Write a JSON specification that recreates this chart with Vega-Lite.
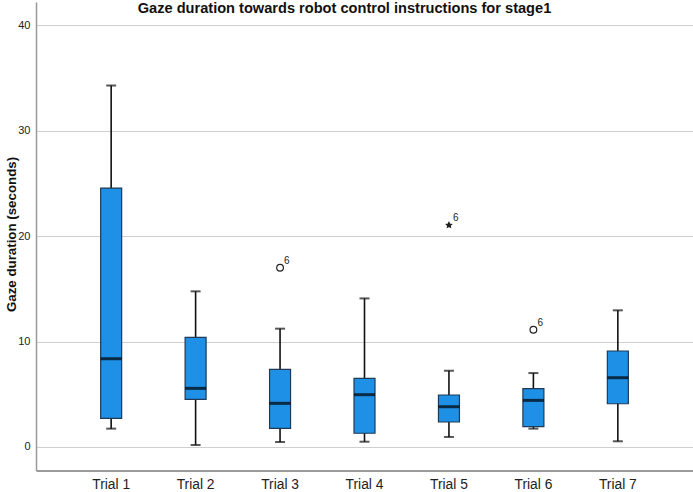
{
  "$schema": "https://vega.github.io/schema/vega-lite/v6.json",
  "width": 657,
  "height": 468.6,
  "autosize": "none",
  "padding": {"left": 36, "top": 2, "right": 0, "bottom": 21.4},
  "background": "white",
  "title": {
    "text": "Gaze duration towards robot control instructions for stage1",
    "font": "Liberation Sans",
    "fontSize": 14.6,
    "fontWeight": "bold",
    "color": "#111111",
    "anchor": "middle",
    "offset": -26,
    "dx": -20,
    "baseline": "alphabetic"
  },
  "datasets": {
    "boxes": [
      {"trial": "Trial 1", "min": 1.74, "q1": 2.72, "median": 8.37, "q3": 24.55, "max": 34.28},
      {"trial": "Trial  2", "min": 0.19, "q1": 4.52, "median": 5.56, "q3": 10.4, "max": 14.76},
      {"trial": "Trial  3", "min": 0.47, "q1": 1.77, "median": 4.14, "q3": 7.36, "max": 11.22},
      {"trial": "Trial  4", "min": 0.5, "q1": 1.3, "median": 4.96, "q3": 6.51, "max": 14.09},
      {"trial": "Trial 5", "min": 0.95, "q1": 2.37, "median": 3.82, "q3": 4.93, "max": 7.23},
      {"trial": "Trial  6", "min": 1.74, "q1": 1.93, "median": 4.42, "q3": 5.53, "max": 7.01},
      {"trial": "Trial  7", "min": 0.54, "q1": 4.1, "median": 6.57, "q3": 9.1, "max": 12.96}
    ],
    "outliers": [
      {"trial": "Trial  3", "value": 17.0, "kind": "outlier", "label": "6"},
      {"trial": "Trial 5", "value": 21.04, "kind": "extreme", "label": "6"},
      {"trial": "Trial  6", "value": 11.12, "kind": "outlier", "label": "6"}
    ]
  },
  "config": {
    "view": {"stroke": null},
    "font": "Liberation Sans"
  },
  "encoding": {
    "x": {
      "field": "trial",
      "type": "nominal",
      "sort": ["Trial 1", "Trial  2", "Trial  3", "Trial  4", "Trial 5", "Trial  6", "Trial  7"],
      "scale": {"paddingInner": 0.75, "paddingOuter": 0.765},
      "axis": {
        "title": null,
        "labelAngle": 0,
        "ticks": false,
        "domainColor": "#9a9a9a",
        "domainWidth": 2,
        "labelFont": "Liberation Sans",
        "labelFontSize": 13.8,
        "labelColor": "#222222",
        "labelPadding": 7,
        "grid": false
      }
    }
  },
  "layer": [
    {
      "data": {"name": "boxes"},
      "mark": {"type": "rule", "color": "#111111", "strokeWidth": 1.6},
      "encoding": {
        "y": {
          "field": "min",
          "type": "quantitative",
          "scale": {"domain": [-2.24, 42.2], "nice": false, "zero": false},
          "axis": {
            "title": "Gaze duration (seconds)",
            "titleFont": "Liberation Sans",
            "titleFontSize": 13.3,
            "titleFontWeight": "bold",
            "titleColor": "#111111",
            "titleX": -25,
            "titleY": 232,
            "titleAngle": -90,
            "titleBaseline": "middle",
            "titleAlign": "center",
            "values": [0, 10, 20, 30, 40],
            "ticks": false,
            "labelPadding": 6,
            "labelFont": "Liberation Sans",
            "labelFontSize": 11,
            "labelColor": "#222222",
            "domainColor": "#9a9a9a",
            "domainWidth": 1.5,
            "grid": true,
            "gridColor": "#cfcfcf",
            "gridWidth": 1
          }
        },
        "y2": {"field": "max"}
      }
    },
    {
      "data": {"name": "boxes"},
      "mark": {"type": "tick", "color": "#111111", "size": 10, "thickness": 2},
      "encoding": {"y": {"field": "min", "type": "quantitative"}}
    },
    {
      "data": {"name": "boxes"},
      "mark": {"type": "tick", "color": "#111111", "size": 10, "thickness": 2},
      "encoding": {"y": {"field": "max", "type": "quantitative"}}
    },
    {
      "data": {"name": "boxes"},
      "mark": {"type": "bar", "size": 21, "fill": "#1e90e6", "stroke": "#1f3a56", "strokeWidth": 1.2},
      "encoding": {
        "y": {"field": "q1", "type": "quantitative"},
        "y2": {"field": "q3"}
      }
    },
    {
      "data": {"name": "boxes"},
      "mark": {"type": "tick", "color": "#000000", "size": 21, "thickness": 3},
      "encoding": {"y": {"field": "median", "type": "quantitative"}}
    },
    {
      "data": {"name": "outliers"},
      "mark": {"type": "point", "strokeWidth": 1.2, "stroke": "#222222", "opacity": 1},
      "encoding": {
        "y": {"field": "value", "type": "quantitative"},
        "shape": {
          "field": "kind",
          "type": "nominal",
          "scale": {
            "domain": ["outlier", "extreme"],
            "range": ["circle", "M0,-1L0.29,-0.4L0.95,-0.31L0.47,0.15L0.59,0.81L0,0.5L-0.59,0.81L-0.47,0.15L-0.95,-0.31L-0.29,-0.4Z"]
          },
          "legend": null
        },
        "fill": {
          "field": "kind",
          "type": "nominal",
          "scale": {"domain": ["outlier", "extreme"], "range": ["#ffffff", "#222222"]},
          "legend": null
        },
        "size": {
          "field": "kind",
          "type": "nominal",
          "scale": {"domain": ["outlier", "extreme"], "range": [45, 28]},
          "legend": null
        }
      }
    },
    {
      "data": {"name": "outliers"},
      "mark": {"type": "text", "align": "left", "baseline": "middle", "dx": 4, "dy": -7, "fontSize": 10, "color": "#222222"},
      "encoding": {
        "y": {"field": "value", "type": "quantitative"},
        "text": {"field": "label"}
      }
    }
  ]
}
